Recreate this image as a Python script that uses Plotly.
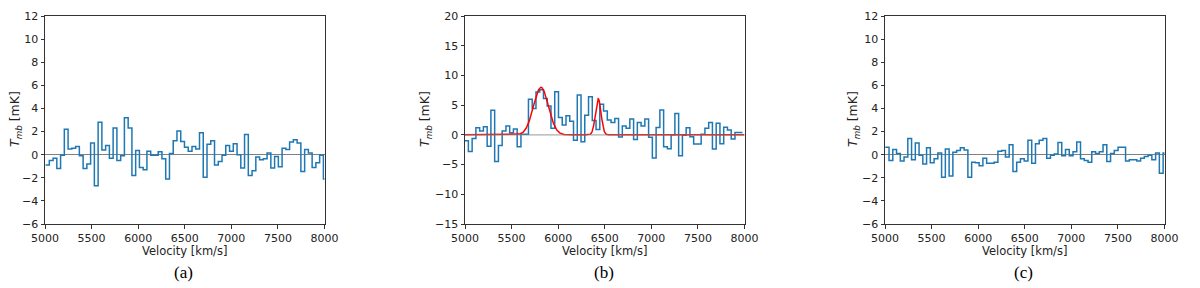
import numpy as np
import plotly.graph_objects as go

# ---------------- data ----------------
chan_width = 40.3  # km/s

a_first_edge = 5006
a_vals = [-0.9, -0.5, -0.3, -1.2, -0.05, 2.2, 0.5, 0.55, 0.7, -0.1,
          -1.2, -0.8, 1.0, -2.7, 2.8, 0.4, 0.8, -0.3, 2.3, -0.5,
          -0.1, 3.2, 2.3, -1.8, 0.35, -1.1, -1.3, 0.3, -0.05, -0.05,
          0.25, -0.35, -2.1, 0.1, 1.2, 2.05, 1.15, 0.65, 0.3, 0.7,
          0.5, 1.9, -1.95, 0.9, 1.2, -0.9, -0.6, -0.05, 0.8, 0.3,
          0.95, 0.0, -1.15, 1.75, -1.8, -1.4, -0.2, -0.45, -0.35, 0.15,
          -1.15, -0.15, -1.05, 0.55, 0.45, 1.1, 1.3, 1.0, -1.45, 0.45,
          0.15, -1.1, -0.7, -0.05, -2.1]

b_first_edge = 4996
b_vals = [-1.0, -2.8, -0.6, 1.2, 0.65, 1.35, -1.9, 4.15, -4.5, -1.8,
          0.65, 1.5, 0.35, 1.0, -2.0, 0.1, 0.1, 6.0, 4.45, 7.2,
          7.6, 6.1, 4.85, 1.1, 7.25, 2.9, 1.65, 3.2, 2.3, -0.9,
          6.7, -1.15, 3.3, 6.4, 2.4, 0.9, 5.15, 4.0, 2.5, 2.1,
          2.75, -0.35, 1.5, 1.1, 2.65, -0.8, 2.1, 1.5, 2.65, -0.4,
          -3.9, 1.25, 4.2, -2.0, -2.35, 0.0, 3.6, -3.5, -0.05, 1.2,
          -0.3, -1.55, -1.55, 0.1, 1.1, 2.1, -2.4, 1.95, -1.5, 1.3,
          0.8, -0.7, 0.4, 0.4]

c_first_edge = 5003
c_vals = [0.65, -0.5, 0.45, 0.1, -0.55, -0.2, 1.4, -0.45, 1.0, -0.05,
          -0.8, 0.6, -0.7, -0.35, 0.15, -1.95, 0.5, -1.85, 0.2, 0.35,
          0.6, 0.4, -1.95, -0.65, -0.7, -0.95, -0.3, -0.75, -0.75, -0.65,
          0.3, 0.35, -0.2, 0.85, -1.45, -0.65, -0.35, -0.55, 1.25, -0.75,
          0.95, 1.25, 1.4, -0.3, -0.05, 0.05, 1.05, -0.1, 0.45, -0.1,
          0.25, 1.1, -0.35, -0.5, -0.65, 0.25, 0.1, 0.25, 0.85, -0.6,
          0.1, 0.35, 0.65, 0.65, -0.55, -0.45, -0.45, -0.55, -0.3, -0.15,
          -0.05, -0.45, 0.15, -1.6, 0.15]

# Gaussian fit components of panel (b)
fit_amp = [8.0, 6.1]
fit_center = [5815, 6430]
fit_sigma = [80, 30]

x_ticks = [5000, 5500, 6000, 6500, 7000, 7500, 8000]
ac_yticks = [-6, -4, -2, 0, 2, 4, 6, 8, 10, 12]
b_yticks = [-15, -10, -5, 0, 5, 10, 15, 20]
panel_labels = ["(a)", "(b)", "(c)"]

# ---------------- figure ----------------
W, H = 1200, 288
OFF = 8  # page body margin
BLUE = "#1f77b4"
AX = "#333333"
TXT = "#222222"
FS = 11


def step_xy(first_edge, vals):
    n = len(vals)
    edges = first_edge + chan_width * np.arange(n + 1)
    xs = list(edges)
    ys = list(vals) + [vals[-1]]
    return xs, ys


def px(x):
    return (x - OFF) / W


def py(y):
    return 1 - (y - OFF) / H


fig = go.Figure()

panels = [(a_first_edge, a_vals), (b_first_edge, b_vals), (c_first_edge, c_vals)]
for i, (fe, vals) in enumerate(panels):
    xs, ys = step_xy(fe, vals)
    suf = "" if i == 0 else str(i + 1)
    fig.add_trace(go.Scatter(x=xs, y=ys, mode="lines", line=dict(color=BLUE, width=1.5, shape="hv"),
                             xaxis="x" + suf, yaxis="y" + suf, showlegend=False, hoverinfo="skip"))
    if i == 1:
        vgrid = np.linspace(5000, 8000, 1501)
        model = np.zeros_like(vgrid)
        for A, c, s in zip(fit_amp, fit_center, fit_sigma):
            model += A * np.exp(-0.5 * ((vgrid - c) / s) ** 2)
        fig.add_trace(go.Scatter(x=vgrid, y=model, mode="lines", line=dict(color="#ff0000", width=1.5),
                                 xaxis="x2", yaxis="y2", showlegend=False, hoverinfo="skip"))
        fig.add_trace(go.Scatter(x=[5000, 8000], y=[0, 0], mode="lines",
                                 line=dict(color="#808080", width=1.3), opacity=0.65,
                                 xaxis="x2", yaxis="y2", showlegend=False, hoverinfo="skip"))

left_px = [45, 465, 885]
plot_w = 279.5
top_px, bot_px = 16, 224

axis_common = dict(showline=True, mirror=True, linecolor=AX, linewidth=1, ticks="outside",
                   ticklen=3.5, tickcolor=AX, tickwidth=1, showgrid=False, automargin=False,
                   tickfont=dict(family="DejaVu Sans", size=FS, color=TXT))

layout = dict(width=W, height=H, margin=dict(l=0, r=0, t=0, b=0, autoexpand=False),
              paper_bgcolor="white", plot_bgcolor="white", showlegend=False)

annotations = []
for i in range(3):
    suf = "" if i == 0 else str(i + 1)
    xa = dict(axis_common, domain=[px(left_px[i]), px(left_px[i] + plot_w)], range=[5000, 8000],
              tickvals=x_ticks, anchor="y" + suf, zeroline=False)
    ydom = [py(bot_px), py(top_px)]
    if i == 1:
        ya = dict(axis_common, domain=ydom, range=[-15, 20],
                  tickvals=b_yticks, anchor="x" + suf, zeroline=False)
    else:
        ya = dict(axis_common, domain=ydom, range=[-6, 12],
                  tickvals=ac_yticks, anchor="x" + suf, zeroline=True,
                  zerolinecolor="#808080", zerolinewidth=1.2)
    layout["xaxis" + suf] = xa
    layout["yaxis" + suf] = ya

    cx = left_px[i] + plot_w / 2
    annotations.append(dict(text="Velocity [km/s]", x=px(cx), y=py(250.5), xref="paper", yref="paper",
                            showarrow=False, xanchor="center", yanchor="middle",
                            font=dict(family="DejaVu Sans", size=FS + 0.5, color=TXT)))
    ylab_x = [15, 425, 853][i]
    annotations.append(dict(text="<i>T</i><sub><i>mb</i></sub> [mK]", x=px(ylab_x), y=py(119),
                            xref="paper", yref="paper", showarrow=False, textangle=-90,
                            xanchor="center", yanchor="middle",
                            font=dict(family="DejaVu Sans", size=12.5, color=TXT)))
    annotations.append(dict(text=panel_labels[i], x=px(cx - 1), y=py(272),
                            xref="paper", yref="paper", showarrow=False, xanchor="center",
                            yanchor="middle",
                            font=dict(family="Liberation Serif", size=17, color="#000000")))

layout["annotations"] = annotations
fig.update_layout(**layout)
fig.write_html("out.html")
